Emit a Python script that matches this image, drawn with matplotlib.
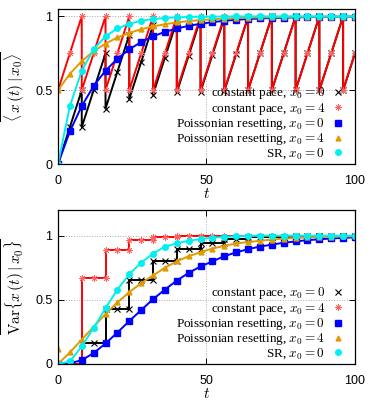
import numpy as np
import matplotlib.pyplot as plt
from matplotlib.lines import Line2D

plt.rcParams['font.family'] = ['Liberation Serif', 'DejaVu Serif']
plt.rcParams['mathtext.fontset'] = 'cm'

# time points (constant pace has double points at the resets)
t_cp = [0, 4, 8, 8,
        12, 16, 16, 20, 24, 24, 28, 32, 32, 36, 40, 40,
        44, 48, 48, 52, 56, 56, 60, 64, 64, 68, 72, 72,
        76, 80, 80, 84, 88, 88, 92, 96, 96,
        100]
t_p = [0, 4, 8, 12, 16, 20, 24, 28, 32, 36, 40, 44, 48,
       52, 56, 60, 64, 68, 72, 76, 80, 84, 88, 92, 96, 100]

# mean, top panel
mean_cp0 = [0, 0.25, 0.5, 0.25,
            0.5, 0.75, 0.375, 0.625, 0.875, 0.44, 0.69, 0.94, 0.47, 0.72, 0.97, 0.485,
            0.735, 0.985, 0.49, 0.74, 0.99, 0.495, 0.745, 0.995, 0.5, 0.75, 1, 0.5,
            0.75, 1, 0.5, 0.75, 1, 0.5, 0.75, 1, 0.5,
            0.75]
mean_cp4 = [0.5, 0.75, 1, 0.5,
            0.75, 1, 0.5, 0.75, 1, 0.5, 0.75, 1, 0.5, 0.75, 1, 0.5,
            0.75, 1, 0.5, 0.75, 1, 0.5, 0.75, 1, 0.5, 0.75, 1, 0.5,
            0.75, 1, 0.5, 0.75, 1, 0.5, 0.75, 1, 0.5,
            0.75]
mean_p0 = [0, 0.221, 0.393, 0.528, 0.632, 0.713, 0.777, 0.826, 0.865, 0.895, 0.918, 0.936, 0.95,
           0.961, 0.97, 0.977, 0.982, 0.986, 0.989, 0.991, 0.993, 0.995, 0.996, 0.997, 0.998, 0.998]
mean_p4 = [0.5, 0.611, 0.697, 0.764, 0.816, 0.857, 0.888, 0.913, 0.932, 0.947, 0.959, 0.968, 0.975,
           0.981, 0.985, 0.988, 0.991, 0.993, 0.994, 0.996, 0.997, 0.997, 0.998, 0.998, 0.999, 0.999]
mean_sr = [0, 0.393, 0.632, 0.777, 0.865, 0.918, 0.95, 0.97, 0.982, 0.989, 0.993, 0.996, 0.998,
           0.998, 0.999, 1, 1, 1, 1, 1, 1, 1, 1, 1, 1, 1]

# variance, bottom panel
var_cp0 = [0, 0, 0, 0.167,
           0.167, 0.167, 0.43, 0.43, 0.43, 0.655, 0.655, 0.655, 0.805, 0.805, 0.805, 0.895,
           0.895, 0.895, 0.945, 0.945, 0.945, 0.972, 0.972, 0.972, 0.986, 0.986, 0.986, 0.993,
           0.993, 0.993, 0.997, 0.997, 0.997, 0.999, 0.999, 0.999, 1,
           1]
var_cp4 = [0, 0, 0, 0.667,
           0.667, 0.667, 0.889, 0.889, 0.889, 0.963, 0.963, 0.963, 0.988, 0.988, 0.988, 0.996,
           0.996, 0.996, 0.999, 0.999, 0.999, 1, 1, 1, 1, 1, 1, 1,
           1, 1, 1, 1, 1, 1, 1, 1, 1,
           1]
var_p0 = [0, 0.005, 0.03, 0.085, 0.16, 0.245, 0.335, 0.42, 0.505, 0.58, 0.65, 0.71, 0.76,
          0.8, 0.84, 0.87, 0.895, 0.915, 0.93, 0.945, 0.955, 0.965, 0.972, 0.978, 0.983, 0.987]
var_p4 = [0, 0.09, 0.19, 0.29, 0.39, 0.48, 0.56, 0.63, 0.69, 0.75, 0.8, 0.84, 0.87,
          0.9, 0.92, 0.94, 0.95, 0.96, 0.97, 0.977, 0.982, 0.986, 0.989, 0.992, 0.994, 0.995]
var_p4_first = 0.12   # stray data point at t=0
var_sr = [0, 0.02, 0.137, 0.28, 0.435, 0.58, 0.7, 0.79, 0.86, 0.915, 0.94, 0.96, 0.974,
          0.984, 0.99, 0.995, 0.998, 1, 1, 1, 1, 1, 1, 1, 1, 1]

labels = ["constant pace, $x_0=0$", "constant pace, $x_0=4$",
          "Poissonian resetting, $x_0=0$", "Poissonian resetting, $x_0=4$",
          "SR, $x_0=0$"]

c_black, c_red, c_blue, c_orange, c_cyan = 'black', '#ff0000', '#0000ff', '#e09b00', '#00f0f0'
lw = 1.4

fig = plt.figure(figsize=(3.71, 4.05), dpi=100)
ax1 = fig.add_axes([58/371, 1-164/405, 297/371, 155/405])
ax2 = fig.add_axes([58/371, 1-364/405, 297/371, 154/405])


def style(ax, ytop, ylab):
    ax.set_xlim(0, 100)
    ax.set_ylim(0, ytop)
    ax.set_xticks([0, 50, 100])
    ax.set_yticks([0, 0.5, 1])
    ax.set_yticklabels(["0", "0.5", "1"])
    ax.grid(True, color='#aaaaaa', ls=':', lw=0.7)
    ax.set_axisbelow(True)
    ax.tick_params(direction='in', top=True, right=True, length=4, width=0.7,
                   labelsize=9)
    ax.tick_params(axis='x', pad=8)
    ax.tick_params(axis='y', pad=4)
    for lab in ax.get_xticklabels() + ax.get_yticklabels():
        lab.set_family('Liberation Sans')
    for s in ax.spines.values():
        s.set_linewidth(0.9)
    ax.set_xlabel("$t$", fontsize=11, labelpad=0)
    ax.set_ylabel(ylab, fontsize=11, labelpad=6)


def draw(ax, cp0, cp4, p0, p4, sr):
    ax.plot(t_cp, cp0, color=c_black, lw=lw, marker='x', ms=4, mew=0.8)
    ax.plot(t_cp, cp4, color=c_red, lw=lw, marker=(8, 2, 0), ms=4.5, mew=0.6, mec='#ff6060')
    ax.plot(t_p, p0, color=c_blue, lw=lw, marker='s', ms=4)
    ax.plot(t_p, p4, color=c_orange, lw=lw, marker='^', ms=3.5)
    ax.plot(t_p, sr, color=c_cyan, lw=lw, marker='o', ms=4)
    handles = [Line2D([], [], ls='none', color=c_black, marker='x', ms=4, mew=0.8),
               Line2D([], [], ls='none', color=c_red, marker=(8, 2, 0), ms=4.5, mew=0.6, mec='#ff6060'),
               Line2D([], [], ls='none', color=c_blue, marker='s', ms=4),
               Line2D([], [], ls='none', color=c_orange, marker='^', ms=3.5),
               Line2D([], [], ls='none', color=c_cyan, marker='o', ms=4)]
    ax.legend(handles, labels, loc='lower right', bbox_to_anchor=(0.975, 0.0),
              markerfirst=False, frameon=False,
              fontsize=9.5, handlelength=1.0, handletextpad=0.5, labelspacing=-0.05,
              borderaxespad=0.0, borderpad=0.2)


draw(ax1, mean_cp0, mean_cp4, mean_p0, mean_p4, mean_sr)
style(ax1, 1.05, r"$\overline{\langle\, x\,(t)\,|\,x_0\rangle}$")

draw(ax2, var_cp0, var_cp4, var_p0, var_p4, var_sr)
ax2.plot([0], [var_p4_first], ls='none', color=c_orange, marker='^', ms=3.5)
style(ax2, 1.2, r"$\overline{\mathrm{Var}\{x\,(t)\,|\,x_0\}}$")

fig.savefig("out.png", dpi=100)
